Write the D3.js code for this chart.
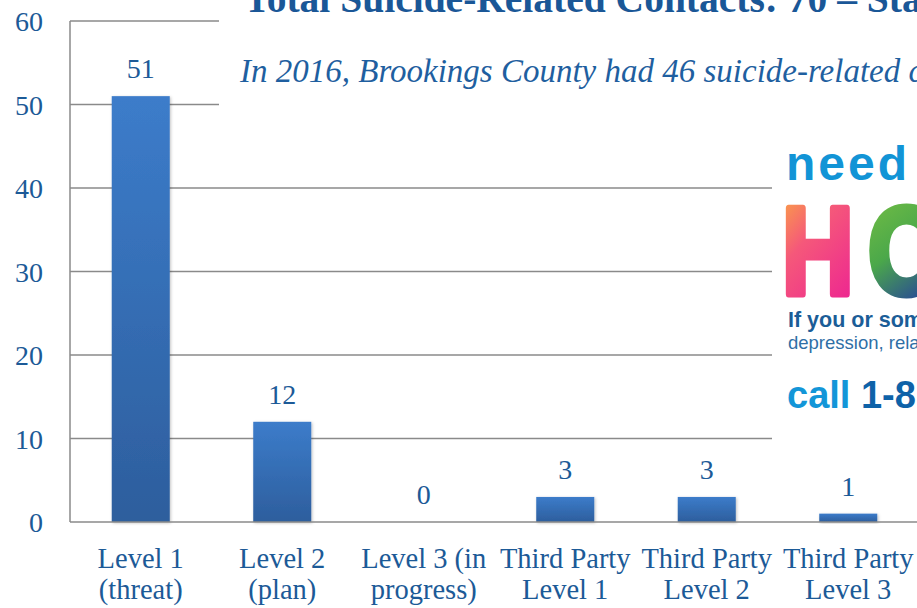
<!DOCTYPE html>
<html>
<head>
<meta charset="utf-8">
<script src="https://cdn.jsdelivr.net/npm/d3@7/dist/d3.min.js"></script>
<style>
  html, body { margin: 0; padding: 0; background: #fff; overflow: hidden; }
  svg { display: block; }
</style>
</head>
<body>
<svg id="chart"></svg>
<script>
// chart data
const categories = [
  ["Level 1", "(threat)"],
  ["Level 2", "(plan)"],
  ["Level 3 (in", "progress)"],
  ["Third Party", "Level 1"],
  ["Third Party", "Level 2"],
  ["Third Party", "Level 3"]
];
const contacts = [51, 12, 0, 3, 3, 1];
const yTicks = [0, 10, 20, 30, 40, 50, 60];

const titleText = "Total Suicide-Related Contacts: 70 \u2013 Statewide";
const subtitleText = "In 2016, Brookings County had 46 suicide-related contacts";

const width = 917, height = 608;
const textBlue = "#1c5a97";
const gridGray = "#8a8a8a";
const serif = "'Liberation Serif', 'DejaVu Serif', serif";
const sans = "'Liberation Sans', Arial, sans-serif";

const svg = d3.select("#chart").attr("width", width).attr("height", height);

// scales
const x = d3.scaleBand()
  .domain(d3.range(categories.length))
  .range([70, 919])
  .paddingInner(0.59)
  .paddingOuter(0.295);

const y = d3.scaleLinear().domain([0, 60]).range([522, 21]);

// gradient for bars
const defs = svg.append("defs");
const barGrad = defs.append("linearGradient")
  .attr("id", "barGrad").attr("x1", 0).attr("y1", 0).attr("x2", 0).attr("y2", 1);
barGrad.append("stop").attr("offset", "0%").attr("stop-color", "#3c7cca");
barGrad.append("stop").attr("offset", "100%").attr("stop-color", "#2d5e9d");

const shadow = defs.append("filter").attr("id", "shadow")
  .attr("x", "-20%").attr("y", "-20%").attr("width", "140%").attr("height", "140%");
shadow.append("feDropShadow")
  .attr("dx", 1).attr("dy", 1).attr("stdDeviation", 1.5)
  .attr("flood-color", "#000").attr("flood-opacity", 0.25);

// grid lines
svg.append("g")
  .selectAll("line")
  .data(yTicks.filter(d => d > 0))
  .join("line")
  .attr("x1", 70).attr("x2", width)
  .attr("y1", d => y(d)).attr("y2", d => y(d))
  .attr("stroke", gridGray).attr("stroke-width", 1.5);

// y axis line
svg.append("line")
  .attr("x1", 70).attr("x2", 70)
  .attr("y1", y(60)).attr("y2", y(0))
  .attr("stroke", gridGray).attr("stroke-width", 1.5);

// tick labels
svg.append("g")
  .selectAll("text")
  .data(yTicks)
  .join("text")
  .attr("x", 43)
  .attr("y", d => y(d) + 10)
  .attr("text-anchor", "end")
  .attr("font-family", serif)
  .attr("font-size", 28)
  .attr("fill", textBlue)
  .text(d => d);

// white box behind the subtitle (covers the upper grid lines)
svg.append("rect")
  .attr("x", 219).attr("y", 0).attr("width", width - 219).attr("height", 115)
  .attr("fill", "#fff");

// bars
svg.append("g")
  .selectAll("rect")
  .data(contacts)
  .join("rect")
  .attr("x", (d, i) => x(i))
  .attr("width", x.bandwidth())
  .attr("y", d => y(d))
  .attr("height", d => y(0) - y(d))
  .attr("fill", "url(#barGrad)")
  .attr("filter", "url(#shadow)");

// x axis baseline
svg.append("line")
  .attr("x1", 70).attr("x2", width)
  .attr("y1", y(0)).attr("y2", y(0))
  .attr("stroke", gridGray).attr("stroke-width", 1.5);

// value labels
svg.append("g")
  .selectAll("text")
  .data(contacts)
  .join("text")
  .attr("x", (d, i) => x(i) + x.bandwidth() / 2)
  .attr("y", d => y(d) - 18)
  .attr("text-anchor", "middle")
  .attr("font-family", serif)
  .attr("font-size", 28)
  .attr("fill", textBlue)
  .text(d => d);

// category labels
const catG = svg.append("g")
  .selectAll("text")
  .data(categories)
  .join("text")
  .attr("text-anchor", "middle")
  .attr("font-family", serif)
  .attr("font-size", 28.5)
  .attr("fill", textBlue);
catG.append("tspan")
  .attr("x", (d, i) => x(i) + x.bandwidth() / 2)
  .attr("y", 568)
  .text(d => d[0]);
catG.append("tspan")
  .attr("x", (d, i) => x(i) + x.bandwidth() / 2)
  .attr("y", 599)
  .text(d => d[1]);

// title (cut by the top of the page) and subtitle
svg.append("text")
  .attr("x", 244).attr("y", 12)
  .attr("font-family", serif)
  .attr("font-weight", "bold")
  .attr("font-size", 39.5)
  .attr("fill", "#1a5797")
  .text(titleText);

svg.append("text")
  .attr("x", 240).attr("y", 82)
  .attr("font-family", serif)
  .attr("font-style", "italic")
  .attr("font-size", 33)
  .attr("fill", "#1f5fa0")
  .text(subtitleText);

// "need HOPE" panel on the right
const hope = svg.append("g");
hope.append("rect")
  .attr("x", 772).attr("y", 128).attr("width", width - 772).attr("height", 330)
  .attr("fill", "#fff");

hope.append("text")
  .attr("x", 786).attr("y", 180)
  .attr("font-family", sans).attr("font-weight", "bold")
  .attr("font-size", 48).attr("letter-spacing", 3)
  .attr("fill", "#1294d6")
  .text("need");

const hGrad = defs.append("linearGradient")
  .attr("id", "hGrad").attr("x1", 0).attr("y1", 0).attr("x2", 0.6).attr("y2", 1);
hGrad.append("stop").attr("offset", "0%").attr("stop-color", "#fbb03b");
hGrad.append("stop").attr("offset", "45%").attr("stop-color", "#f5587a");
hGrad.append("stop").attr("offset", "100%").attr("stop-color", "#ee2a8f");

const oGrad = defs.append("linearGradient")
  .attr("id", "oGrad").attr("x1", 0).attr("y1", 0).attr("x2", 0.4).attr("y2", 1);
oGrad.append("stop").attr("offset", "0%").attr("stop-color", "#7cc242");
oGrad.append("stop").attr("offset", "55%").attr("stop-color", "#4ba84a");
oGrad.append("stop").attr("offset", "100%").attr("stop-color", "#27449a");

hope.append("text")
  .attr("transform", "translate(782,294) scale(0.8,1)")
  .attr("font-family", sans).attr("font-weight", "bold")
  .attr("font-size", 124)
  .attr("fill", "url(#hGrad)")
  .attr("stroke", "url(#hGrad)").attr("stroke-width", 7)
  .attr("stroke-linejoin", "round")
  .text("H");

hope.append("text")
  .attr("transform", "translate(868,294) scale(0.8,1)")
  .attr("font-family", sans).attr("font-weight", "bold")
  .attr("font-size", 124)
  .attr("fill", "url(#oGrad)")
  .attr("stroke", "url(#oGrad)").attr("stroke-width", 7)
  .attr("stroke-linejoin", "round")
  .text("O");

hope.append("text")
  .attr("x", 788).attr("y", 327)
  .attr("font-family", sans).attr("font-weight", "bold")
  .attr("font-size", 21.5)
  .attr("fill", "#1b5d97")
  .text("If you or someone you know");

hope.append("text")
  .attr("x", 788).attr("y", 349)
  .attr("font-family", sans)
  .attr("font-size", 18.5)
  .attr("fill", "#2f6fa6")
  .text("depression, relationship");

const call = hope.append("text")
  .attr("x", 787).attr("y", 408)
  .attr("font-family", sans).attr("font-weight", "bold")
  .attr("font-size", 38);
call.append("tspan").attr("fill", "#1396d8").text("call ");
call.append("tspan").attr("fill", "#0e62a8").text("1-800-273-8255");
</script>
</body>
</html>
